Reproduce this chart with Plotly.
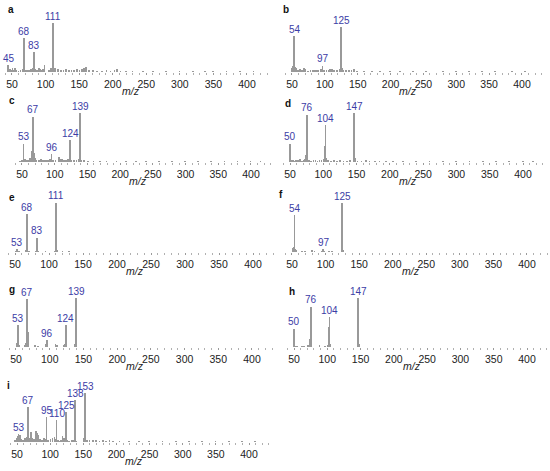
import plotly.graph_objects as go

# Spectra (m/z, relative intensity)
a_mz = [45, 47, 49, 51, 53, 55, 57, 60, 63, 66, 68, 69, 71, 74, 77, 79, 81, 83, 85, 88, 91, 93, 95, 97, 99,
        105, 109, 111, 112, 115, 119, 123, 127, 131, 135, 139, 143, 147, 151, 155, 158, 161, 165, 171, 177,
        185, 191, 197, 203, 207, 212, 220, 230, 245, 260, 280, 300, 320, 338, 350, 370, 390, 410]
a_int = [14, 6, 4, 8, 5, 9, 4, 3, 5, 6, 69, 8, 5, 4, 5, 7, 8, 41, 6, 4, 9, 7, 5, 6, 14,
         5, 9, 100, 10, 8, 6, 5, 5, 6, 4, 5, 4, 7, 5, 7, 9, 11, 4, 4, 3,
         3, 4, 3, 4, 7, 3, 3, 2, 2, 2, 2, 2, 2, 3, 2, 2, 2, 2]
a_lab = [45, 68, 83, 111]

b_mz = [50, 52, 53, 54, 55, 57, 59, 61, 63, 66, 69, 71, 75, 79, 83, 86, 89, 91, 95, 97, 99, 103, 107, 109,
        112, 115, 119, 123, 125, 127, 129, 133, 137, 141, 145, 150, 160, 172, 185, 200, 215, 235, 255, 280,
        300, 320, 340, 360, 385, 405]
b_int = [10, 14, 18, 81, 12, 9, 6, 5, 8, 6, 10, 7, 3, 4, 6, 5, 4, 5, 8, 15, 6, 5, 6, 7,
         8, 5, 4, 8, 100, 9, 6, 5, 4, 4, 7, 3, 3, 2, 2, 2, 2, 2, 2, 2,
         2, 2, 2, 2, 2, 2]
b_lab = [54, 97, 125]

c_mz = [48, 51, 53, 55, 58, 61, 63, 65, 66, 67, 68, 69, 71, 73, 77, 80, 83, 86, 89, 92, 94, 96, 98, 102,
        107, 109, 112, 115, 118, 121, 124, 126, 130, 134, 137, 139, 141, 145, 152, 160, 170, 180, 195, 210,
        225, 240, 260, 280, 300, 320, 340, 360, 380, 400, 415]
c_int = [3, 5, 38, 6, 4, 5, 8, 15, 22, 93, 31, 18, 8, 4, 5, 6, 4, 5, 4, 5, 7, 17, 5, 4,
         10, 7, 6, 4, 5, 6, 45, 5, 4, 5, 7, 100, 5, 4, 3, 3, 2, 2, 2, 2,
         2, 2, 2, 2, 2, 2, 2, 2, 2, 2, 2]
c_lab = [53, 67, 96, 124, 139]

d_mz = [50, 52, 55, 57, 60, 63, 65, 68, 71, 73, 75, 76, 77, 79, 82, 86, 89, 92, 95, 98, 101, 103, 104, 105,
        108, 112, 117, 121, 126, 131, 136, 141, 146, 147, 148, 152, 158, 165, 170, 178, 185, 195, 205, 220,
        240, 260, 280, 300, 320, 340, 360, 380, 400, 415]
d_int = [38, 4, 5, 3, 5, 4, 6, 3, 5, 6, 14, 97, 8, 4, 3, 4, 5, 3, 4, 5, 6, 34, 76, 9,
         4, 3, 4, 3, 4, 3, 3, 4, 8, 100, 9, 3, 3, 4, 3, 3, 2, 2, 2, 2,
         2, 2, 2, 2, 2, 2, 2, 2, 2, 2]
d_lab = [50, 76, 104, 147]

e_mz = [51, 53, 55, 57, 66, 67, 68, 69, 71, 81, 83, 85, 95, 109, 111, 112, 120, 130]
e_int = [3, 7, 4, 2, 5, 6, 77, 4, 2, 2, 30, 2, 2, 3, 100, 5, 2, 2]
e_lab = [53, 68, 83, 111]

f_mz = [51, 52, 53, 54, 55, 56, 65, 70, 80, 84, 95, 97, 99, 105, 110, 125, 126]
f_int = [4, 8, 10, 76, 6, 4, 2, 3, 4, 3, 3, 7, 3, 2, 2, 100, 4]
f_lab = [54, 97, 125]

g_mz = [51, 52, 53, 55, 63, 65, 66, 67, 68, 69, 79, 83, 94, 95, 96, 97, 109, 111, 122, 123, 124, 125,
        138, 139, 140]
g_int = [6, 8, 45, 4, 4, 8, 10, 98, 31, 6, 4, 3, 5, 7, 14, 4, 6, 5, 4, 6, 45, 5,
         6, 100, 5]
g_lab = [53, 67, 96, 124, 139]

h_mz = [50, 52, 55, 62, 66, 72, 74, 75, 76, 77, 89, 97, 102, 103, 104, 105, 146, 147, 148]
h_int = [38, 3, 2, 3, 3, 4, 8, 17, 83, 5, 4, 2, 5, 41, 62, 6, 4, 100, 6]
h_lab = [50, 76, 104, 147]

i_mz = [47, 49, 51, 52, 53, 54, 55, 57, 60, 63, 65, 67, 68, 70, 72, 74, 76, 79, 81, 83, 85, 88, 91, 93,
        95, 96, 98, 101, 104, 107, 109, 110, 112, 114, 117, 119, 121, 123, 125, 126, 129, 133, 136, 138,
        140, 151, 153, 154, 156, 160, 165, 170, 175, 180, 185, 190, 195, 205, 220, 235, 250, 270, 290,
        310, 330, 350, 370, 390, 410]
i_int = [5, 4, 8, 12, 17, 10, 14, 6, 5, 8, 10, 72, 12, 9, 20, 8, 6, 22, 18, 15, 6, 4, 9, 6,
         52, 5, 4, 6, 8, 10, 6, 45, 5, 3, 4, 12, 8, 6, 62, 5, 3, 4, 5, 86,
         3, 8, 100, 12, 5, 4, 4, 4, 3, 4, 3, 5, 3, 3, 2, 2, 2, 2, 2,
         2, 2, 2, 2, 2, 2]
i_lab = [53, 67, 95, 110, 125, 138, 153]

tick_vals = [50, 100, 150, 200, 250, 300, 350, 400]
panel_names = ["a", "b", "c", "d", "e", "f", "g", "h", "i"]

spectra = {
    "a": (a_mz, a_int, a_lab), "b": (b_mz, b_int, b_lab), "c": (c_mz, c_int, c_lab),
    "d": (d_mz, d_int, d_lab), "e": (e_mz, e_int, e_lab), "f": (f_mz, f_int, f_lab),
    "g": (g_mz, g_int, g_lab), "h": (h_mz, h_int, h_lab), "i": (i_mz, i_int, i_lab),
}

# pixel placement of each panel: x of tick 50, x of tick 400, baseline y, px for 100 %, letter x, letter y
place = {
    "a": (12, 247, 72, 49, 6, 10),
    "b": (292, 522, 72, 45, 281, 10),
    "c": (22, 251, 162, 49, 7, 101),
    "d": (290, 523, 162, 49, 283, 104),
    "e": (15, 253, 252, 50, 7, 197),
    "f": (292, 527, 252, 49, 277, 194),
    "g": (16, 252, 347, 49, 7, 289),
    "h": (294, 527, 347, 49, 287, 291),
    "i": (17, 249, 442, 49, 5, 385),
}

W, H = 550, 471
X0, X1 = 40, 432
YTOP = 125
FONT = "Liberation Sans, Arial"

fig = go.Figure()
annotations = []
layout = {}

for k, name in enumerate(panel_names):
    mz, inten, lab = spectra[name]
    p50, p400, base, h100, lx, ly = place[name]
    s = (p400 - p50) / 350.0
    left = p50 - (50 - X0) * s
    right = p400 + (X1 - 400) * s
    top = base - h100 * YTOP / 100.0
    ax = "" if k == 0 else str(k + 1)

    layout["xaxis" + ax] = dict(
        domain=[left / W, right / W], range=[X0, X1], anchor="y" + ax,
        tickvals=tick_vals, ticks="outside", ticklen=2, tickcolor="#9a9a9a", tickwidth=1,
        minor=dict(dtick=10, tick0=0, ticks="outside", ticklen=1.5, tickcolor="#b0b0b0"),
        showline=False, showgrid=False, zeroline=False,
        tickfont=dict(family=FONT, size=10.5, color="#222"),
    )
    layout["yaxis" + ax] = dict(
        domain=[1 - base / H, 1 - top / H], range=[0, YTOP], anchor="x" + ax,
        visible=False, fixedrange=True,
    )

    fig.add_trace(go.Bar(
        x=mz, y=inten, width=1.1, xaxis="x" + ax, yaxis="y" + ax,
        marker=dict(color="#999999", line=dict(width=0)), showlegend=False,
    ))

    for m in lab:
        annotations.append(dict(
            x=m, y=inten[mz.index(m)], xref="x" + ax, yref="y" + ax, text=str(m),
            showarrow=False, yanchor="bottom", xanchor="center", yshift=-1,
            font=dict(family=FONT, size=10, color="#3c3ca6"),
        ))

    # m/z axis title
    annotations.append(dict(
        x=227, y=1 - (base + 19) / H, xref="x" + ax, yref="paper", text="<i>m/z</i>",
        showarrow=False, xanchor="center", yanchor="middle",
        font=dict(family=FONT, size=10.5, color="#222"),
    ))
    # panel letter
    annotations.append(dict(
        x=lx / W, y=1 - ly / H, xref="paper", yref="paper", text="<b>" + name + "</b>",
        showarrow=False, xanchor="left", yanchor="middle",
        font=dict(family=FONT, size=10, color="#111"),
    ))

fig.update_layout(
    width=W, height=H, margin=dict(l=0, r=0, t=0, b=0),
    paper_bgcolor="white", plot_bgcolor="white",
    bargap=0, annotations=annotations, **layout,
)

fig.write_html("out.html", config={"displayModeBar": False},
               post_script="document.body.style.margin='0';")
